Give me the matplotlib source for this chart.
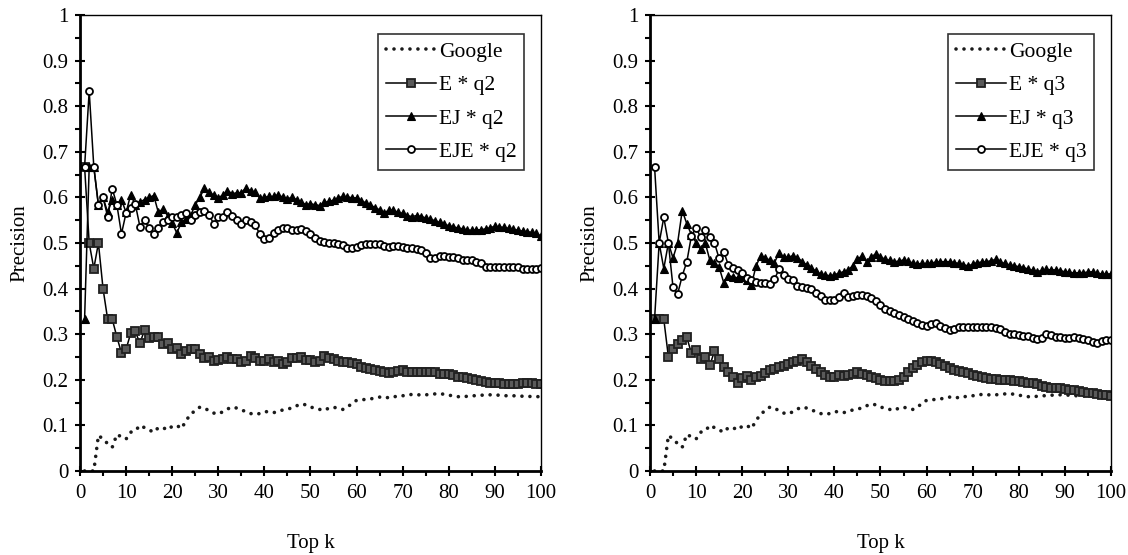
import numpy as np
import matplotlib
matplotlib.use('Agg')
import matplotlib.pyplot as plt
from matplotlib.ticker import MultipleLocator

plt.rcParams['font.family'] = ['Liberation Serif', 'DejaVu Serif']

k = np.arange(1, 101)

google = [0.0, 0.0, 0.0, 0.078, 0.07, 0.06, 0.052, 0.08, 0.075, 0.07,
          0.085, 0.088, 0.1, 0.095, 0.09, 0.085, 0.095, 0.095, 0.09, 0.098,
          0.1, 0.093, 0.11, 0.125, 0.132, 0.14, 0.138, 0.132, 0.127, 0.125,
          0.13, 0.136, 0.14, 0.138, 0.134, 0.13, 0.126, 0.124, 0.126, 0.13,
          0.13, 0.128, 0.13, 0.134, 0.136, 0.138, 0.143, 0.147, 0.145, 0.14,
          0.138, 0.135, 0.133, 0.138, 0.14, 0.137, 0.135, 0.14, 0.148, 0.155,
          0.156, 0.157, 0.158, 0.16, 0.162, 0.163, 0.16, 0.162, 0.165, 0.165,
          0.166, 0.168, 0.168, 0.166, 0.167, 0.168, 0.169, 0.17, 0.168, 0.166,
          0.165, 0.163, 0.162, 0.164, 0.165, 0.165, 0.166, 0.167, 0.167, 0.167,
          0.166, 0.165, 0.165, 0.165, 0.164, 0.164, 0.164, 0.163, 0.163, 0.163]

e_q2 = [0.667, 0.5, 0.444, 0.5, 0.4, 0.333, 0.333, 0.294, 0.259, 0.267,
        0.302, 0.306, 0.28, 0.309, 0.292, 0.294, 0.294, 0.278, 0.28, 0.267,
        0.27, 0.256, 0.264, 0.267, 0.267, 0.256, 0.247, 0.25, 0.241, 0.243,
        0.246, 0.251, 0.245, 0.245, 0.24, 0.242, 0.252, 0.247, 0.242, 0.242,
        0.245, 0.24, 0.242, 0.235, 0.24, 0.247, 0.247, 0.25, 0.243, 0.243,
        0.24, 0.242, 0.252, 0.247, 0.245, 0.242, 0.24, 0.238, 0.236, 0.235,
        0.229, 0.226, 0.223, 0.222, 0.22, 0.218, 0.215, 0.218, 0.219, 0.222,
        0.218, 0.216, 0.218, 0.218, 0.218, 0.218, 0.217, 0.213, 0.212, 0.213,
        0.211, 0.207, 0.206, 0.204, 0.202, 0.2, 0.197, 0.196, 0.194, 0.194,
        0.194, 0.19, 0.19, 0.19, 0.19, 0.194, 0.193, 0.194, 0.19, 0.19]

ej_q2 = [0.333, 0.667, 0.667, 0.583, 0.6, 0.567, 0.595, 0.583, 0.595, 0.567,
         0.606, 0.583, 0.59, 0.595, 0.6, 0.604, 0.567, 0.575, 0.56, 0.544,
         0.522, 0.545, 0.553, 0.56, 0.584, 0.6, 0.62, 0.611, 0.605, 0.599,
         0.605, 0.615, 0.608, 0.61, 0.61, 0.621, 0.614, 0.612, 0.598, 0.6,
         0.602, 0.602, 0.606, 0.6, 0.597, 0.6, 0.595, 0.59, 0.584, 0.586,
         0.584, 0.582, 0.589, 0.591, 0.594, 0.599, 0.602, 0.601, 0.599, 0.599,
         0.593, 0.588, 0.584, 0.577, 0.573, 0.566, 0.572, 0.572, 0.567, 0.565,
         0.56, 0.558, 0.56, 0.558, 0.555, 0.552, 0.549, 0.545, 0.541, 0.538,
         0.535, 0.533, 0.531, 0.528, 0.528, 0.529, 0.529, 0.531, 0.533, 0.537,
         0.535, 0.534, 0.532, 0.53, 0.528, 0.526, 0.525, 0.523, 0.521, 0.515]

eje_q2 = [0.667, 0.833, 0.667, 0.583, 0.6, 0.558, 0.619, 0.584, 0.52, 0.566,
          0.577, 0.585, 0.536, 0.55, 0.533, 0.52, 0.533, 0.545, 0.551, 0.558,
          0.558, 0.562, 0.566, 0.551, 0.562, 0.568, 0.571, 0.562, 0.542, 0.556,
          0.558, 0.567, 0.56, 0.551, 0.542, 0.551, 0.547, 0.539, 0.52, 0.509,
          0.511, 0.522, 0.529, 0.532, 0.533, 0.529, 0.528, 0.531, 0.526, 0.52,
          0.512, 0.505, 0.502, 0.5, 0.5, 0.498, 0.495, 0.49, 0.49, 0.492,
          0.495, 0.497, 0.498, 0.498, 0.497, 0.494, 0.492, 0.494, 0.494, 0.492,
          0.49, 0.489, 0.487, 0.484, 0.478, 0.468, 0.468, 0.472, 0.471, 0.469,
          0.469, 0.466, 0.463, 0.462, 0.462, 0.458, 0.455, 0.448, 0.448, 0.448,
          0.448, 0.448, 0.448, 0.448, 0.448, 0.443, 0.443, 0.443, 0.443, 0.446]

e_q3 = [0.333, 0.333, 0.333, 0.25, 0.267, 0.278, 0.287, 0.293, 0.258, 0.265,
        0.245, 0.249, 0.232, 0.263, 0.245, 0.229, 0.218, 0.205, 0.192, 0.203,
        0.208, 0.199, 0.205, 0.209, 0.215, 0.221, 0.224, 0.227, 0.231, 0.234,
        0.239, 0.242, 0.246, 0.238, 0.23, 0.224, 0.217, 0.21, 0.205, 0.207,
        0.21, 0.208, 0.211, 0.213, 0.216, 0.213, 0.21, 0.207, 0.203, 0.2,
        0.197, 0.197, 0.198, 0.2, 0.207, 0.216, 0.225, 0.233, 0.239, 0.241,
        0.242, 0.238, 0.234, 0.23, 0.226, 0.222, 0.219, 0.217, 0.214, 0.211,
        0.209, 0.206, 0.203, 0.201, 0.201, 0.2, 0.2, 0.2, 0.198, 0.197,
        0.196, 0.194, 0.192, 0.19, 0.187, 0.185, 0.183, 0.182, 0.181, 0.18,
        0.178, 0.177, 0.175, 0.173, 0.172, 0.17, 0.169, 0.167, 0.166, 0.165]

ej_q3 = [0.333, 0.5, 0.444, 0.5, 0.467, 0.5, 0.571, 0.542, 0.518, 0.501,
         0.486, 0.5, 0.462, 0.456, 0.447, 0.413, 0.428, 0.426, 0.423, 0.425,
         0.419, 0.408, 0.449, 0.472, 0.466, 0.463, 0.457, 0.478, 0.469, 0.469,
         0.472, 0.468, 0.459, 0.452, 0.445, 0.438, 0.432, 0.43, 0.428, 0.43,
         0.434, 0.437, 0.441, 0.45, 0.464, 0.472, 0.459, 0.47, 0.476, 0.47,
         0.464, 0.462, 0.459, 0.46, 0.463, 0.46, 0.456, 0.454, 0.455, 0.455,
         0.456, 0.458, 0.459, 0.459, 0.459, 0.457, 0.455, 0.452, 0.45, 0.453,
         0.457, 0.458, 0.459, 0.461, 0.464, 0.458, 0.455, 0.452, 0.45, 0.448,
         0.446, 0.443, 0.44, 0.437, 0.44, 0.442, 0.441, 0.441, 0.439, 0.437,
         0.436, 0.434, 0.435, 0.435, 0.436, 0.437, 0.434, 0.432, 0.432, 0.432]

eje_q3 = [0.667, 0.5, 0.556, 0.5, 0.403, 0.388, 0.428, 0.459, 0.516, 0.533,
          0.513, 0.529, 0.513, 0.5, 0.466, 0.481, 0.452, 0.445, 0.441, 0.434,
          0.423, 0.418, 0.415, 0.413, 0.412, 0.41, 0.42, 0.443, 0.43, 0.422,
          0.419, 0.406, 0.403, 0.401, 0.398, 0.39, 0.384, 0.376, 0.375, 0.376,
          0.382, 0.39, 0.381, 0.383, 0.386, 0.385, 0.384, 0.38, 0.372, 0.364,
          0.355, 0.351, 0.347, 0.343, 0.337, 0.333, 0.329, 0.325, 0.321, 0.318,
          0.322, 0.324, 0.318, 0.313, 0.309, 0.311, 0.315, 0.315, 0.315, 0.315,
          0.315, 0.315, 0.315, 0.315, 0.314, 0.311, 0.305, 0.3, 0.3, 0.298,
          0.297, 0.295, 0.292, 0.289, 0.292, 0.3, 0.298, 0.294, 0.293, 0.291,
          0.292, 0.293, 0.292, 0.289, 0.287, 0.283, 0.281, 0.284, 0.287, 0.287]

panels = [
    (['E * q2', 'EJ * q2', 'EJE * q2'], [e_q2, ej_q2, eje_q2]),
    (['E * q3', 'EJ * q3', 'EJE * q3'], [e_q3, ej_q3, eje_q3]),
]

fig = plt.figure(figsize=(11.28, 5.55), dpi=100)
boxes = [[0.0709, 0.1514, 0.4087, 0.8216], [0.5762, 0.1514, 0.4087, 0.8216]]

for box, (names, series) in zip(boxes, panels):
    ax = fig.add_axes(box)
    ax.plot(k, google, color='#1a1a1a', linestyle=(0, (0.01, 2.2)), lw=2.6,
            dash_capstyle='round', label='Google')
    ax.plot(k, series[0], color='black', lw=1.1, marker='s', ms=5.2,
            mfc='#5a5a5a', mec='#202020', mew=1.3, label=names[0])
    ax.plot(k, series[1], color='black', lw=1.1, marker='^', ms=5.4,
            mfc='black', mec='black', mew=0.8, label=names[1])
    ax.plot(k, series[2], color='black', lw=1.1, marker='o', ms=5.0,
            mfc='white', mec='black', mew=1.3, label=names[2])

    ax.set_xlim(0, 100)
    ax.set_ylim(0, 1)
    ax.xaxis.set_major_locator(MultipleLocator(10))
    ax.xaxis.set_minor_locator(MultipleLocator(5))
    ax.yaxis.set_minor_locator(MultipleLocator(0.05))
    ax.set_yticks(np.arange(0, 1.01, 0.1))
    ax.set_yticklabels(['0', '0.1', '0.2', '0.3', '0.4', '0.5', '0.6', '0.7', '0.8', '0.9', '1'])
    ax.tick_params(which='major', direction='inout', length=7, width=1.5,
                   labelsize=15, top=False, right=False)
    ax.tick_params(which='minor', direction='out', length=3.5, width=1.5,
                   top=False, right=False)
    ax.tick_params(axis='x', which='major', pad=6)
    ax.tick_params(axis='y', which='major', pad=5)
    for side in ['left', 'bottom']:
        ax.spines[side].set_linewidth(2.0)
    for side in ['top', 'right']:
        ax.spines[side].set_linewidth(1.0)
    ax.set_xlabel('Top k', fontsize=15, labelpad=22)
    ax.set_ylabel('Precision', fontsize=15, labelpad=9)

    leg = ax.legend(loc='upper right', bbox_to_anchor=(0.963, 0.958),
                    fontsize=15.5, frameon=True, fancybox=False,
                    edgecolor='black', handlelength=2.3, handletextpad=0.15,
                    labelspacing=0.62, borderpad=0.35, borderaxespad=0)
    leg.get_frame().set_linewidth(1.2)

fig.savefig('out.png', dpi=100)
